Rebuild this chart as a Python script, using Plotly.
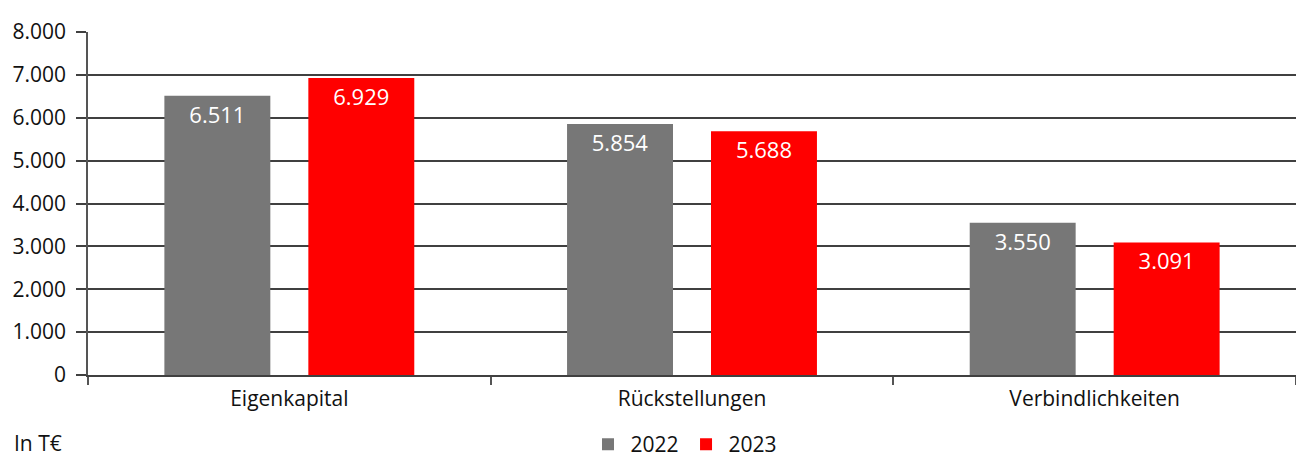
import plotly.graph_objects as go

categories = ["Eigenkapital", "Rückstellungen", "Verbindlichkeiten"]
values_2022 = [6511, 5854, 3550]
values_2023 = [6929, 5688, 3091]
series_names = ["2022", "2023"]
y_ticks = [0, 1000, 2000, 3000, 4000, 5000, 6000, 7000, 8000]

FONT = "Open Sans"
PW = 1296 - 88
PH = 457 - 32 - 82
fig = go.Figure()
for name, vals, col in [(series_names[0], values_2022, "#777777"), (series_names[1], values_2023, "#ff0000")]:
    fig.add_trace(go.Bar(
        x=categories, y=vals, name=name, marker=dict(color=col, line=dict(width=0)),
        texttemplate="%{y:,d}", textposition="inside", insidetextanchor="end",
        textfont=dict(color="white", size=22, family=FONT), textangle=0,
    ))

fig.update_layout(
    width=1296, height=457,
    margin=dict(l=88, r=0, t=32, b=82, autoexpand=False),
    paper_bgcolor="white", plot_bgcolor="white",
    separators=",.",
    barmode="group", bargap=0.285, bargroupgap=0.264,
    font=dict(family=FONT, size=21, color="#111111"),
    showlegend=True,
    legend=dict(orientation="h", x=(684 - 88) / PW, xanchor="center", y=(375 - 424) / PH, yanchor="top",
                font=dict(size=21, family=FONT), itemwidth=35, traceorder="normal"),
    uniformtext=dict(mode="show", minsize=22),
)
fig.update_yaxes(
    range=[0, 8000], tickvals=y_ticks, tickformat=",d", automargin=False,
    showgrid=True, gridcolor="#404040", gridwidth=1.5,
    ticks="outside", ticklen=10, tickcolor="#404040", tickwidth=1.5,
    ticklabelstandoff=6,
    showline=True, linecolor="#555555", linewidth=1.5,
    zeroline=False, tickfont=dict(size=21, family=FONT, color="#111111"),
)
fig.update_xaxes(
    showline=True, linecolor="#404040", linewidth=1.5, automargin=False,
    ticks="outside", tickson="boundaries", ticklen=8, tickcolor="#555555", tickwidth=1.5,
    ticklabelstandoff=4,
    tickfont=dict(size=21, family=FONT, color="#111111"),
)
fig.add_annotation(text="In T€", xref="paper", yref="paper", x=(12 - 88) / PW, y=(375 - 443) / PH,
                   xanchor="left", yanchor="middle", showarrow=False,
                   font=dict(size=21, family=FONT, color="#111111"))
fig.write_html("out.html", config={"displayModeBar": False},
               post_script="document.body.style.margin='0';")
